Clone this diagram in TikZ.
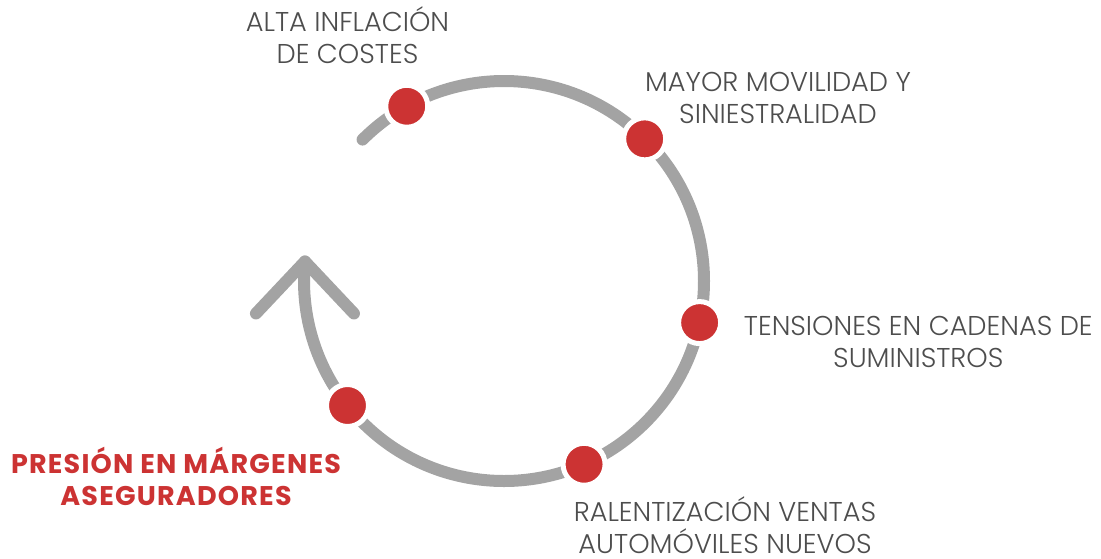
\documentclass[tikz,border=0pt]{standalone}
\usepackage{fontspec}
\setmainfont{Poppins}
\newfontfamily\lightfont{Poppins Light}
\usetikzlibrary{calc}
\definecolor{arcgray}{HTML}{A3A3A3}
\definecolor{dotred}{HTML}{CC3333}
\definecolor{txtgray}{HTML}{4D4D4D}
\tikzset{
  ring/.style={line width=12pt, draw=arcgray, line cap=round, line join=round},
  dotnode/.style={circle, fill=dotred, draw=white, line width=5pt, minimum size=42pt, inner sep=0pt},
  lbl/.style={align=center, inner sep=0pt, anchor=base, text=txtgray,
    font=\lightfont\fontsize{27.2}{31.5}\selectfont},
  redlbl/.style={lbl, text=dotred, font=\fontsize{27}{31.5}\selectfont\bfseries\addfontfeature{LetterSpace=4.5}}
}
\begin{document}
\begin{tikzpicture}[x=1pt,y=-1pt]
\useasboundingbox (0,0) rectangle (1101,558);
\coordinate (c) at (504,281);
\coordinate (tip) at ($(c)+(185.6:200)$);
\draw[ring] ($(c)+(-135:200)$) arc[start angle=-135, end angle=185.6, radius=200];
\draw[ring] ($(tip)+(-49,52)$) -- (tip) -- ($(tip)+(49,52)$);
\node[dotnode] (d1) at ($(c)+(-119.1:200)$) {};
\node[dotnode] (d2) at ($(c)+(-45.3:200)$) {};
\node[dotnode] (d3) at ($(c)+(12:200)$) {};
\node[dotnode] (d4) at ($(c)+(66.4:200)$) {};
\node[dotnode] (d5) at ($(c)+(141.5:200)$) {};
\node[lbl] (t1) at (347.5,63.3) {ALTA INFLACIÓN\\DE COSTES};
\node[lbl] (t2) at (778,123.3) {MAYOR MOVILIDAD Y\\SINIESTRALIDAD};
\node[lbl] (t3) at (918.3,367.3) {TENSIONES EN CADENAS DE\\SUMINISTROS};
\node[lbl] (t4) at (725,553) {RALENTIZACIÓN VENTAS\\AUTOMÓVILES NUEVOS};
\node[redlbl] (t5) at (176,505) {PRESIÓN EN MÁRGENES\\ASEGURADORES};
\end{tikzpicture}
\end{document}
